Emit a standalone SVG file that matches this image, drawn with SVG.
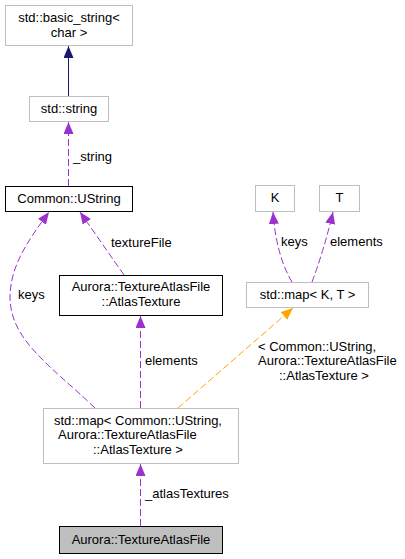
<svg xmlns="http://www.w3.org/2000/svg" width="405" height="559" viewBox="0 0 405 559">
<style>
  text { font-family: "Liberation Sans", Arial, sans-serif; font-size: 13px; fill: #000; }
  .c { text-anchor: middle; }
  .box { fill: #fff; stroke: #bfbfbf; stroke-width: 1; }
  .boxk { fill: #fff; stroke: #000; stroke-width: 1; }
  .boxsel { fill: #bfbfbf; stroke: #000; stroke-width: 1; }
  .e { fill: none; stroke: #9a32cd; stroke-width: 1; stroke-dasharray: 7,3; }
  .eo { fill: none; stroke: #ffa500; stroke-width: 1; stroke-dasharray: 7,3; }
  .en { fill: none; stroke: #191970; stroke-width: 1; }
</style>
<defs>
  <marker id="ap" markerUnits="userSpaceOnUse" markerWidth="13" markerHeight="11" refX="12" refY="5" orient="auto">
    <path d="M0,0 L12,5 L0,10 z" fill="#9a32cd"/>
  </marker>
  <marker id="ao" markerUnits="userSpaceOnUse" markerWidth="13" markerHeight="11" refX="12" refY="5" orient="auto">
    <path d="M0,0 L12,5 L0,10 z" fill="#ffa500"/>
  </marker>
  <marker id="an" markerUnits="userSpaceOnUse" markerWidth="13" markerHeight="11" refX="12" refY="5" orient="auto">
    <path d="M0,0 L12,5 L0,10 z" fill="#191970"/>
  </marker>
</defs>
<rect width="405" height="559" fill="#fff"/>
<g id="edges">
  <path class="en" d="M68.5,96 L68.5,46" marker-end="url(#an)"/>
  <path class="e" d="M68.5,186 L68.5,122" marker-end="url(#ap)"/>
  <text x="73" y="161">_string</text>
  <path class="e" d="M95,408 C50,365 10,340 10,297 C10,265 30,238 49,212" marker-end="url(#ap)"/>
  <text x="18" y="299">keys</text>
  <path class="e" d="M124,275 L80,212" marker-end="url(#ap)"/>
  <text x="111" y="247">textureFile</text>
  <path class="e" d="M140.5,408 L140.5,316" marker-end="url(#ap)"/>
  <text x="145" y="365">elements</text>
  <path class="eo" d="M178,408 L293,308" marker-end="url(#ao)"/>
  <text x="258" y="351">&lt; Common::UString,</text>
  <text x="258" y="365">Aurora::TextureAtlasFile</text>
  <text x="279" y="380">::AtlasTexture &gt;</text>
  <path class="e" d="M292,282 Q276,255 273,212" marker-end="url(#ap)"/>
  <text x="281" y="246">keys</text>
  <path class="e" d="M312,282 Q324,250 333,212" marker-end="url(#ap)"/>
  <text x="330" y="246">elements</text>
  <path class="e" d="M140.5,526 L140.5,464" marker-end="url(#ap)"/>
  <text x="145" y="498">_atlasTextures</text>
</g>
<g id="node_basic_string">
  <rect class="box" x="5.5" y="5.5" width="127" height="40"/>
  <text class="c" x="69" y="22">std::basic_string&lt;</text>
  <text class="c" x="69" y="37">char &gt;</text>
</g>
<g id="node_std_string">
  <rect class="box" x="29.5" y="96.5" width="79" height="25"/>
  <text class="c" x="69" y="113">std::string</text>
</g>
<g id="node_ustring">
  <rect class="boxk" x="5.5" y="186.5" width="127" height="25"/>
  <text class="c" x="69" y="203">Common::UString</text>
</g>
<g id="node_atlastexture">
  <rect class="boxk" x="59.5" y="275.5" width="163" height="40"/>
  <text class="c" x="141" y="291">Aurora::TextureAtlasFile</text>
  <text class="c" x="141" y="306">::AtlasTexture</text>
</g>
<g id="node_K">
  <rect class="box" x="255.5" y="185.5" width="39" height="26"/>
  <text class="c" x="275" y="202">K</text>
</g>
<g id="node_T">
  <rect class="box" x="319.5" y="185.5" width="40" height="26"/>
  <text class="c" x="339.5" y="202">T</text>
</g>
<g id="node_map_KT">
  <rect class="box" x="246.5" y="282.5" width="122" height="25"/>
  <text class="c" x="307.5" y="299">std::map&lt; K, T &gt;</text>
</g>
<g id="node_map_inst">
  <rect class="box" x="43.5" y="408.5" width="195" height="55"/>
  <text x="54" y="425">std::map&lt; Common::UString,</text>
  <text x="58" y="439">Aurora::TextureAtlasFile</text>
  <text x="93" y="454">::AtlasTexture &gt;</text>
</g>
<g id="node_texture_atlas_file">
  <rect class="boxsel" x="59.5" y="526.5" width="163" height="27"/>
  <text class="c" x="141" y="544">Aurora::TextureAtlasFile</text>
</g>
</svg>
